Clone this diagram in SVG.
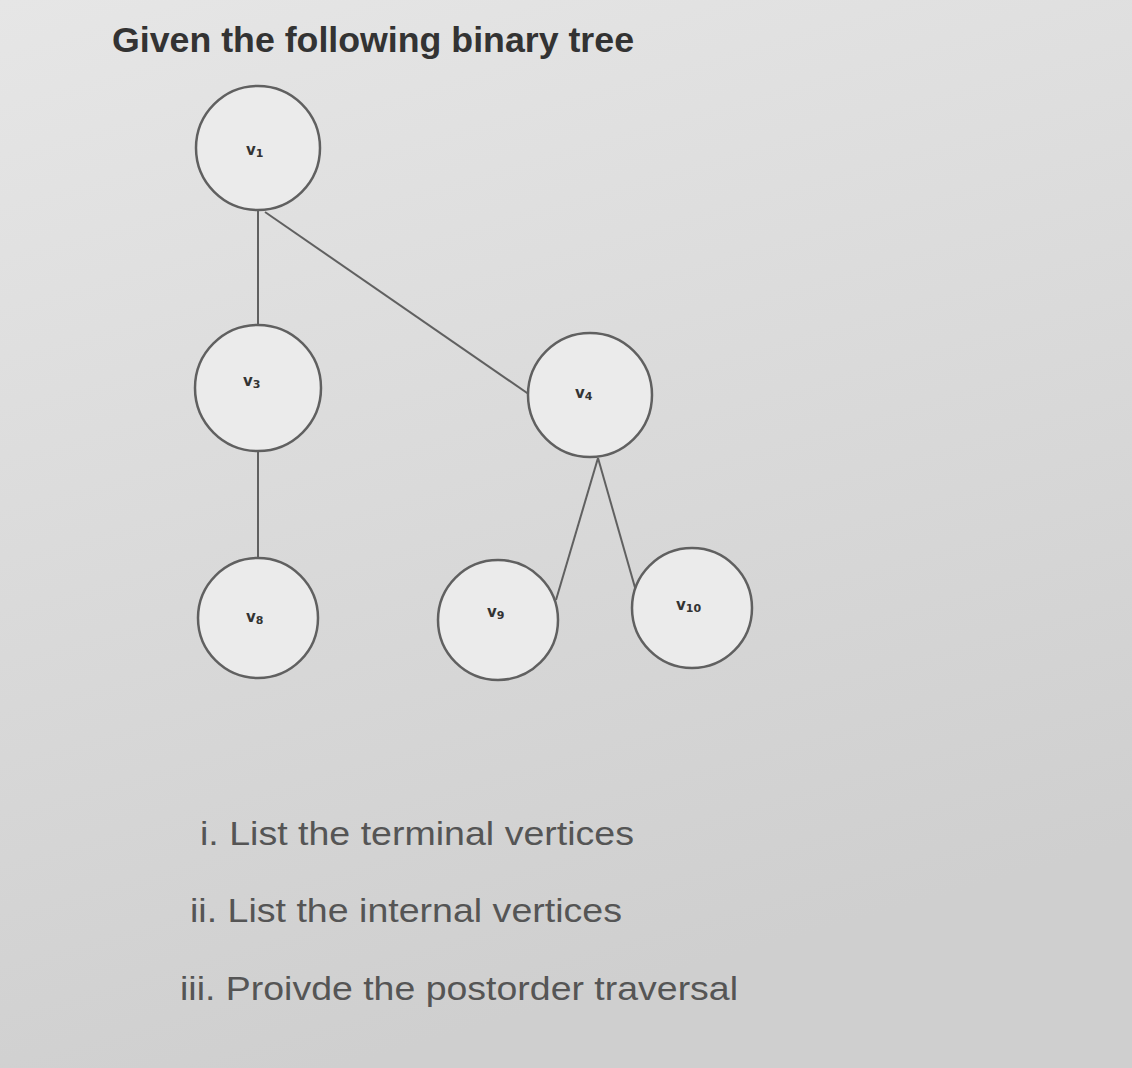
<svg xmlns="http://www.w3.org/2000/svg" width="1132" height="1068" viewBox="0 0 1132 1068">
<defs>
<linearGradient id="bg" x1="0" y1="0" x2="0.3" y2="1">
<stop offset="0" stop-color="#e6e6e6"/>
<stop offset="1" stop-color="#cfcfcf"/>
</linearGradient>
</defs>
<style>
.n{fill:#ebebeb;stroke:#606060;stroke-width:2.5}
.l{font-family:"DejaVu Sans",sans-serif;font-weight:bold;font-size:15px;fill:#333}
.e{stroke:#606060;stroke-width:2;fill:none}
.q{font-family:"Liberation Sans",sans-serif;font-size:33px;fill:#555}
</style>
<rect width="1132" height="1068" fill="url(#bg)"/>
<text x="112" y="52" font-family="Liberation Sans,sans-serif" font-weight="bold" font-size="35" fill="#333" textLength="522" lengthAdjust="spacingAndGlyphs">Given the following binary tree</text>
<g id="connectors">
<line class="e" x1="258" y1="210" x2="258" y2="325"/>
<line class="e" x1="265" y1="212" x2="530" y2="395"/>
<line class="e" x1="258" y1="451" x2="258" y2="558"/>
<line class="e" x1="598" y1="458" x2="556" y2="600"/>
<line class="e" x1="598" y1="458" x2="638" y2="598"/>
</g>
<g id="v1"><circle class="n" cx="258" cy="148" r="62"/><text class="l" x="246" y="155">v<tspan font-size="11" dy="2">1</tspan></text></g>
<g id="v3"><circle class="n" cx="258" cy="388" r="63"/><text class="l" x="243" y="386">v<tspan font-size="11" dy="2">3</tspan></text></g>
<g id="v8"><circle class="n" cx="258" cy="618" r="60"/><text class="l" x="246" y="622">v<tspan font-size="11" dy="2">8</tspan></text></g>
<g id="v4"><circle class="n" cx="590" cy="395" r="62"/><text class="l" x="575" y="398">v<tspan font-size="11" dy="2">4</tspan></text></g>
<g id="v9"><circle class="n" cx="498" cy="620" r="60"/><text class="l" x="487" y="617">v<tspan font-size="11" dy="2">9</tspan></text></g>
<g id="v10"><circle class="n" cx="692" cy="608" r="60"/><text class="l" x="676" y="610">v<tspan font-size="11" dy="2">10</tspan></text></g>
<text class="q" x="200" y="845" textLength="434" lengthAdjust="spacingAndGlyphs">i. List the terminal vertices</text>
<text class="q" x="190" y="922" textLength="432" lengthAdjust="spacingAndGlyphs">ii. List the internal vertices</text>
<text class="q" x="180" y="1000" textLength="558" lengthAdjust="spacingAndGlyphs">iii. Proivde the postorder traversal</text>
</svg>
